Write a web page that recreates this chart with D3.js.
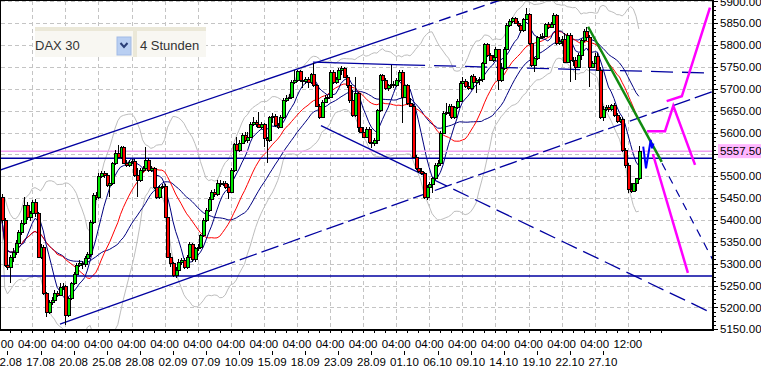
<!DOCTYPE html>
<html><head><meta charset="utf-8">
<script src="https://cdn.jsdelivr.net/npm/d3@7/dist/d3.min.js"></script>
<style>
body{margin:0;background:#fff;}
svg{display:block;font-family:"Liberation Sans",Arial,sans-serif;}
</style>
</head><body>
<svg id="c" width="761" height="372"></svg>
<script>
// ---- data (4-hour candles, DAX 30) ----
const firstCandle = 1;
const opens = [5453,5400,5297,5293,5316,5327,5348,5373,5394,5434,5408,5415,5442,5415,5316,5339,5232,5190,5213,5217,5234,5228,5246,5249,5183,5221,5255,5276,5297,5302,5299,5312,5322,5396,5457,5452,5500,5507,5502,5480,5484,5530,5554,5545,5566,5531,5526,5533,5536,5503,5491,5514,5518,5537,5514,5518,5476,5453,5475,5478,5408,5316,5301,5274,5286,5305,5308,5293,5316,5345,5310,5335,5339,5366,5400,5423,5449,5465,5459,5485,5482,5485,5476,5465,5514,5574,5560,5577,5594,5583,5590,5619,5625,5619,5613,5619,5587,5583,5635,5638,5617,5613,5636,5674,5680,5682,5716,5720,5741,5720,5718,5723,5715,5734,5709,5661,5636,5670,5680,5682,5739,5716,5723,5743,5747,5728,5708,5674,5640,5690,5613,5602,5590,5609,5579,5575,5583,5651,5731,5720,5701,5709,5712,5708,5720,5739,5682,5709,5667,5661,5545,5518,5513,5508,5453,5476,5482,5495,5526,5531,5600,5645,5648,5661,5635,5658,5673,5714,5718,5706,5701,5729,5716,5720,5723,5758,5802,5777,5767,5773,5790,5720,5747,5792,5846,5856,5861,5851,5845,5834,5859,5871,5804,5754,5770,5818,5819,5821,5848,5842,5848,5868,5804,5810,5815,5762,5823,5766,5767,5751,5777,5812,5833,5819,5751,5760,5776,5744,5635,5655,5659,5653,5662,5640,5627,5631,5560,5526,5470,5467,5484,5495];
const highs = [5459,5404,5312,5320,5335,5354,5377,5400,5453,5442,5421,5446,5447,5419,5345,5343,5236,5218,5225,5240,5238,5255,5255,5251,5225,5259,5282,5301,5308,5307,5318,5327,5400,5462,5465,5507,5513,5513,5508,5491,5533,5560,5571,5569,5569,5537,5537,5540,5539,5518,5518,5523,5568,5541,5523,5522,5480,5480,5482,5482,5411,5324,5305,5293,5310,5314,5312,5320,5350,5348,5339,5345,5369,5404,5427,5453,5468,5470,5491,5491,5490,5490,5482,5518,5577,5590,5583,5600,5602,5602,5625,5636,5629,5648,5625,5622,5590,5638,5644,5642,5622,5640,5678,5686,5688,5720,5743,5744,5744,5726,5728,5728,5737,5758,5712,5665,5674,5685,5686,5743,5743,5728,5747,5752,5751,5731,5712,5697,5728,5693,5619,5613,5613,5612,5592,5587,5655,5735,5735,5724,5712,5754,5718,5724,5743,5743,5712,5712,5678,5665,5549,5523,5518,5510,5480,5488,5499,5530,5537,5604,5650,5667,5665,5665,5661,5676,5717,5728,5722,5716,5732,5734,5724,5728,5762,5805,5805,5781,5777,5795,5792,5758,5796,5850,5859,5865,5865,5856,5851,5862,5884,5874,5808,5773,5821,5825,5827,5851,5853,5853,5873,5871,5818,5821,5827,5827,5827,5772,5772,5781,5815,5836,5842,5823,5764,5781,5781,5751,5661,5664,5664,5665,5667,5644,5636,5635,5564,5530,5485,5485,5497,5569];
const lows = [5394,5293,5286,5255,5305,5320,5339,5366,5388,5401,5398,5409,5408,5312,5310,5228,5179,5186,5205,5213,5223,5226,5240,5160,5179,5217,5251,5270,5293,5289,5293,5301,5316,5391,5446,5447,5495,5497,5476,5453,5480,5526,5541,5539,5528,5522,5522,5528,5499,5453,5488,5510,5514,5510,5510,5472,5447,5449,5470,5404,5312,5293,5270,5267,5279,5297,5289,5289,5312,5305,5305,5330,5333,5360,5396,5418,5446,5453,5455,5476,5478,5472,5449,5461,5510,5545,5556,5574,5579,5577,5587,5615,5613,5610,5607,5568,5530,5579,5621,5613,5607,5610,5632,5670,5676,5678,5712,5716,5716,5701,5712,5701,5712,5705,5658,5632,5635,5667,5674,5678,5712,5711,5718,5731,5724,5703,5667,5636,5636,5602,5598,5587,5587,5574,5564,5569,5574,5648,5716,5697,5696,5703,5703,5705,5716,5621,5678,5663,5658,5541,5514,5507,5503,5449,5446,5468,5462,5491,5522,5528,5597,5640,5638,5630,5630,5655,5670,5709,5703,5697,5697,5712,5690,5709,5716,5754,5772,5764,5762,5764,5697,5716,5743,5789,5842,5851,5848,5842,5827,5831,5857,5800,5751,5739,5766,5813,5815,5818,5838,5839,5845,5800,5800,5798,5758,5760,5716,5752,5720,5747,5766,5808,5815,5705,5747,5757,5741,5630,5627,5650,5648,5650,5636,5622,5622,5555,5520,5461,5462,5465,5467,5491];
const closes = [5400,5297,5293,5316,5327,5348,5373,5394,5434,5408,5415,5442,5415,5316,5339,5232,5190,5213,5217,5234,5228,5246,5249,5183,5221,5255,5276,5297,5302,5299,5312,5322,5396,5457,5452,5500,5507,5502,5480,5484,5530,5554,5545,5566,5531,5526,5533,5536,5503,5491,5514,5518,5537,5514,5518,5476,5453,5475,5478,5408,5316,5301,5274,5286,5305,5308,5293,5316,5345,5310,5335,5339,5366,5400,5423,5449,5465,5459,5485,5482,5485,5476,5465,5514,5574,5560,5577,5594,5583,5590,5619,5625,5619,5613,5619,5587,5583,5635,5638,5617,5613,5636,5674,5680,5682,5716,5720,5741,5720,5718,5723,5715,5734,5709,5661,5636,5670,5680,5682,5739,5716,5723,5743,5747,5728,5708,5674,5640,5690,5613,5602,5590,5609,5579,5575,5583,5651,5731,5720,5701,5709,5712,5708,5720,5739,5682,5709,5667,5661,5545,5518,5513,5508,5453,5476,5482,5495,5526,5531,5600,5645,5648,5661,5635,5658,5673,5714,5718,5706,5701,5729,5716,5720,5723,5758,5802,5777,5767,5773,5790,5720,5747,5792,5846,5856,5861,5851,5845,5834,5859,5871,5804,5754,5770,5818,5819,5821,5848,5842,5848,5868,5804,5810,5815,5762,5823,5766,5767,5751,5777,5812,5833,5819,5751,5760,5776,5744,5635,5655,5659,5653,5662,5640,5627,5631,5560,5526,5470,5467,5484,5495,5557.5];

const timeLabels = ["04:00","04:00","04:00","04:00","04:00","04:00","04:00","04:00","04:00","04:00","04:00","04:00","04:00","04:00","04:00","04:00","04:00","04:00","04:00","12:00"];
const dateLabels = ["12.08","17.08","20.08","25.08","28.08","02.09","07.09","10.09","15.09","18.09","23.09","28.09","01.10","06.10","09.10","14.10","19.10","22.10","27.10",""];
const candlesPerLabel = 12;
const priceTicks = [5150,5200,5250,5300,5350,5400,5450,5500,5550,5600,5650,5700,5750,5800,5850,5900];
const lastPrice = 5557.5;
const supportLevels = [5541, 5272];
const symbolName = "DAX 30";
const periodName = "4 Stunden";

// trend lines: [candle index, price]
const upperChannelSolid = [[0.3,5514],[147.2,5829]];
const upperChannelDashed = [[147.2,5829],[200,5942]];
const lowerChannelSolid = [[22.05,5162],[79.4,5291]];
const lowerChannelDashed = [[79.4,5291],[258.9,5694]];
const topLineSolid = [[113.8,5761],[146.5,5755]];
const topLineDashed = [[146.5,5755],[258.9,5736]];
const fallLineSolid = [[116.7,5616],[149.0,5518]];
const fallLineDashed = [[149.0,5518],[258.9,5186]];
const steepDashed = [[240.4,5530],[258.9,5308]];
const greenTrend = [[213.6,5842],[240.3,5533]];
const magentaUp = [[242.1,5672],[247.6,5683],[257.8,5886]];
const magentaMid = [[235.0,5603],[241.5,5603],[244.5,5661],[252.4,5526]];
const magentaDown = [[237.1,5551],[249.8,5279]];
const blueProjection = [[233.6,5568],[234.6,5518],[236.3,5583],[236.8,5564],[237.3,5575]];

// ---- scales ----
const svg = d3.select("#c");
const x = d3.scaleLinear().domain([0, 240]).range([-0.8, -0.8 + 2.757 * 240]);
const y = d3.scaleLinear().domain([5150, 5900]).range([329.3, 1.4]);
const R = 713, B = 330;

const candles = closes.map((c, k) => ({i: firstCandle + k, o: opens[k], h: highs[k], l: lows[k], c}));

// indicators from closes
function sma(n) {
  return candles.map((d, k) => {
    const s = closes.slice(Math.max(0, k - n + 1), k + 1);
    return {i: d.i, v: d3.mean(s)};
  });
}
function boll(n, m) {
  return candles.map((d, k) => {
    const s = closes.slice(Math.max(0, k - n + 1), k + 1);
    const mu = d3.mean(s);
    const sd = Math.sqrt(d3.mean(s, v => (v - mu) * (v - mu)));
    return {i: d.i, up: mu + m * sd, lo: mu - m * sd};
  });
}
const bb = boll(20, 2);
const maFast = sma(8), maMid = sma(20), maSlow = sma(30);

svg.append("rect").attr("width", 761).attr("height", 372).attr("fill", "#fff");
svg.append("clipPath").attr("id", "pc").append("rect").attr("x", 1).attr("y", 1).attr("width", R - 2).attr("height", B - 2);
const plot = svg.append("g").attr("clip-path", "url(#pc)");

// grid
const grid = plot.append("g").attr("stroke", "#c4c4c4").attr("stroke-dasharray", "4,3").attr("shape-rendering", "crispEdges");
priceTicks.forEach(v => {
  const yy = Math.round(y(v)) + 0.5;
  grid.append("line").attr("x1", 1).attr("x2", R).attr("y1", yy).attr("y2", yy);
});
timeLabels.forEach((t, k) => {
  const xx = Math.round(x(k * candlesPerLabel)) + 0.5;
  grid.append("line").attr("x1", xx).attr("x2", xx).attr("y1", 1).attr("y2", B);
});

const line = d3.line().x(d => x(d[0])).y(d => y(d[1]));

// bollinger
plot.append("path").datum(bb.map(d => [d.i, d.up])).attr("d", line).attr("fill", "none").attr("stroke", "#bdbdbd").attr("stroke-width", 1);
plot.append("path").datum(bb.map(d => [d.i, d.lo])).attr("d", line).attr("fill", "none").attr("stroke", "#bdbdbd").attr("stroke-width", 1);
// moving averages
plot.append("path").datum(maSlow.map(d => [d.i, d.v])).attr("d", line).attr("fill", "none").attr("stroke", "#000080").attr("stroke-width", 1);
plot.append("path").datum(maMid.map(d => [d.i, d.v])).attr("d", line).attr("fill", "none").attr("stroke", "#ff0000").attr("stroke-width", 1);
plot.append("path").datum(maFast.map(d => [d.i, d.v])).attr("d", line).attr("fill", "none").attr("stroke", "#000080").attr("stroke-width", 1);

// horizontal levels
plot.append("line").attr("x1", 0).attr("x2", R).attr("y1", y(lastPrice)).attr("y2", y(lastPrice)).attr("stroke", "#f0a0f0").attr("stroke-width", 1.5);
supportLevels.forEach(v => plot.append("line").attr("x1", 0).attr("x2", R).attr("y1", y(v)).attr("y2", y(v)).attr("stroke", "#0000a0").attr("stroke-width", 1.5));

// trend lines
function tl(pts, color, w, dash) {
  const p = plot.append("path").datum(pts).attr("d", line).attr("fill", "none").attr("stroke", color).attr("stroke-width", w).attr("stroke-linecap", "butt");
  if (dash) p.attr("stroke-dasharray", dash);
}
tl(upperChannelSolid, "#0000a0", 1.4);
tl(upperChannelDashed, "#0000a0", 1.4, "12,6");
tl(lowerChannelSolid, "#0000a0", 1.3);
tl(lowerChannelDashed, "#0000a0", 1.3, "18,5");
tl(topLineSolid, "#0000a0", 1.3);
tl(topLineDashed, "#0000a0", 1.3, "22,9");
tl(fallLineSolid, "#0000a0", 1.3);
tl(fallLineDashed, "#0000a0", 1.3, "17,7");
tl(steepDashed, "#0000a0", 1.2, "8,7");

// candles
const cg = plot.append("g").attr("shape-rendering", "crispEdges");
candles.forEach(d => {
  const cx = Math.round(x(d.i));
  cg.append("line").attr("x1", cx + 0.5).attr("x2", cx + 0.5).attr("y1", y(d.h)).attr("y2", y(d.l)).attr("stroke", "#000");
  const top = Math.round(y(Math.max(d.o, d.c))), bot = Math.round(y(Math.min(d.o, d.c)));
  cg.append("rect").attr("x", cx - 1).attr("y", top + 0.5).attr("width", 3).attr("height", Math.max(1, bot - top))
    .attr("fill", d.c >= d.o ? "#00e600" : "#ff0000").attr("stroke", "#000").attr("stroke-width", 1);
});

// projections
tl(greenTrend, "#108a10", 2.5);
tl(magentaUp, "#ff00ff", 2.5);
tl(magentaMid, "#ff00ff", 2.5);
tl(magentaDown, "#ff00ff", 2.5);
tl(blueProjection, "#0000ff", 2);

// borders
svg.append("line").attr("x1", 0.5).attr("x2", 0.5).attr("y1", 0).attr("y2", B).attr("stroke", "#000");
svg.append("line").attr("x1", 0).attr("x2", R).attr("y1", 0.5).attr("y2", 0.5).attr("stroke", "#000");
svg.append("rect").attr("x", R - 1).attr("y", 0).attr("width", 2).attr("height", B + 1).attr("fill", "#000");
svg.append("rect").attr("x", 0).attr("y", B - 1).attr("width", R + 1).attr("height", 2).attr("fill", "#000");

// right axis
const ax = svg.append("g").attr("shape-rendering", "crispEdges");
d3.range(5150, 5901, 10).forEach(v => {
  const yy = Math.round(y(v)) + 0.5;
  const major = v % 50 === 0;
  ax.append("line").attr("x1", R + 1).attr("x2", R + (major ? 5 : 3)).attr("y1", yy).attr("y2", yy).attr("stroke", "#000");
});
priceTicks.filter(v => Math.abs(y(v) - y(lastPrice)) > 10).forEach(v => {
  svg.append("text").attr("x", 720).attr("y", y(v)).attr("dy", "0.36em").attr("font-size", "11.5px").attr("fill", "#000").text(v.toFixed(2));
});
svg.append("rect").attr("x", 718).attr("y", y(lastPrice) - 7).attr("width", 43).attr("height", 14).attr("fill", "#ffb6ff");
svg.append("text").attr("x", 720).attr("y", y(lastPrice)).attr("dy", "0.36em").attr("font-size", "11.5px").attr("fill", "#000").text(lastPrice.toFixed(2));

// bottom axis
d3.range(0, 241, 4).forEach(i => {
  const xx = Math.round(x(i)) + 0.5;
  if (xx < R) ax.append("line").attr("x1", xx).attr("x2", xx).attr("y1", B + 1).attr("y2", B + 3).attr("stroke", "#000");
});
timeLabels.forEach((t, k) => {
  const xx = x(k * candlesPerLabel);
  svg.append("text").attr("x", xx).attr("y", 347.5).attr("text-anchor", "middle").attr("font-size", "11.5px").text(t);
  if (dateLabels[k]) {
    const xd = x(k * candlesPerLabel + 3);
    ax.append("line").attr("x1", Math.round(xd) + 0.5).attr("x2", Math.round(xd) + 0.5).attr("y1", 351).attr("y2", 355).attr("stroke", "#000");
    svg.append("text").attr("x", xd).attr("y", 365.5).attr("text-anchor", "middle").attr("font-size", "11.5px").text(dateLabels[k]);
  }
});

// selector widget
const wdg = svg.append("g");
wdg.append("rect").attr("x", 35).attr("y", 27).attr("width", 171).attr("height", 30).attr("fill", "#f8f7f2");
wdg.append("rect").attr("x", 35).attr("y", 27).attr("width", 171).attr("height", 4).attr("fill", "#ebe8d8");
wdg.append("rect").attr("x", 133).attr("y", 27).attr("width", 4).attr("height", 30).attr("fill", "#ebe8d8");
wdg.append("rect").attr("x", 117).attr("y", 37).attr("width", 14).attr("height", 18).attr("fill", "#b9cff2").attr("stroke", "#a2bbe6");
wdg.append("path").attr("d", "M120.5,43 L124,47 L127.5,43").attr("fill", "none").attr("stroke", "#2b3f77").attr("stroke-width", 2);
wdg.append("text").attr("x", 35).attr("y", 49.5).attr("font-size", "13px").attr("fill", "#333").text(symbolName);
wdg.append("text").attr("x", 140).attr("y", 49.5).attr("font-size", "13px").attr("fill", "#333").text(periodName);
</script>
</body></html>
